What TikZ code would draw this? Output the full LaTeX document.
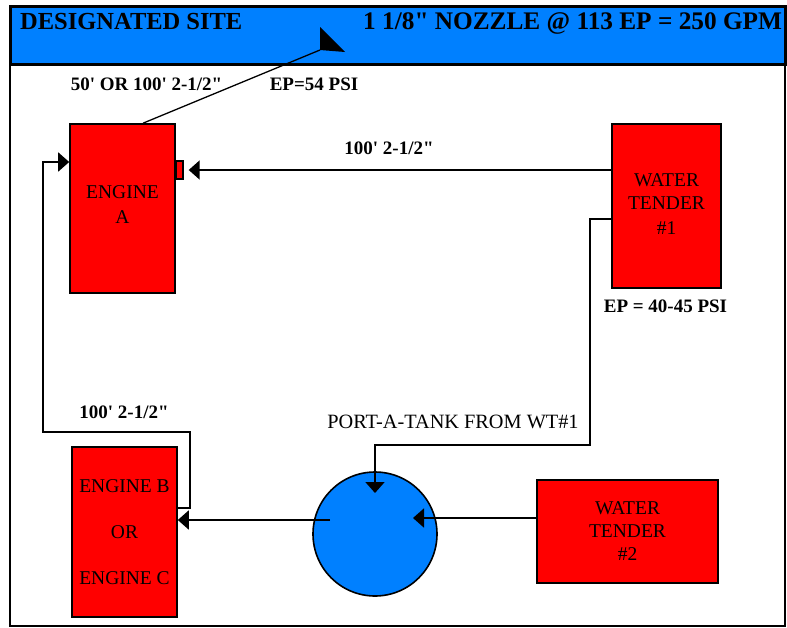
\documentclass[tikz,border=0pt]{standalone}
\usepackage{fontspec}
\newfontfamily\tnr{Liberation Serif}
\definecolor{TruckRed}{HTML}{FF0000}
\definecolor{TankBlue}{HTML}{0080FF}
\usetikzlibrary{arrows.meta, positioning}

\begin{document}
\begin{tikzpicture}[x=1pt, y=-1pt, >={Triangle[length=11pt,width=19pt]},
  truck/.style={draw, line width=1.6pt, fill=TruckRed, inner sep=0pt, align=center,
    font=\tnr\fontsize{19.5}{23}\selectfont},
  hose/.style={line width=1.8pt},
  lbl/.style={inner sep=0pt, font=\tnr\bfseries\fontsize{19}{22}\selectfont},
  head/.style={inner sep=0pt, anchor=base west, font=\tnr\bfseries\fontsize{24.5}{28}\selectfont}]
  \useasboundingbox (0,0) rectangle (787,627);

  % Frame and header bar
  \draw[line width=2pt] (10,6) rectangle (785,626);
  \draw[line width=3pt, fill=TankBlue] (10,6) rectangle (785,64);
  \node[head] (site) at (20,29) {DESIGNATED SITE};
  \node[head, font=\tnr\bfseries\fontsize{25.3}{28}\selectfont] (nozlbl) at (363,29)
    {1 1/8" NOZZLE @ 113 EP = 250 GPM};

  % Apparatus
  \node[truck, minimum width=105pt, minimum height=169pt] (engA) at (122.5,208.5)
    {ENGINE\\[2pt]A\\[-15pt]\mbox{}};
  \node[draw, line width=1.4pt, fill=TruckRed, inner sep=0pt,
    minimum width=7pt, minimum height=18pt] (engAport) at (179.5,170) {};
  \node[truck, minimum width=109pt, minimum height=164pt] (wt1) at (666.5,206)
    {\mbox{}\\[-15pt]WATER\\TENDER\\[2pt]\#1};
  \node[truck, minimum width=105pt, minimum height=170pt] (engB) at (124.5,532)
    {ENGINE B\\[23pt]OR\\[23pt]ENGINE C};
  \node[truck, minimum width=181pt, minimum height=103pt] (wt2) at (627.5,531.5)
    {WATER\\TENDER\\\#2};
  \node[circle, draw, line width=1.6pt, fill=TankBlue, minimum size=124pt] (tank) at (375,534) {};

  % Labels
  \node[lbl] (attlbl) at (146.5,84) {50' OR 100' 2-1/2"};
  \node[lbl] (eplbl) at (314,84) {EP=54 PSI};
  \node[lbl] (supplbl) at (389,148) {100' 2-1/2"};
  \node[lbl] (wtlbl) at (665.5,306) {EP = 40-45 PSI};
  \node[lbl] (feedlbl) at (124,412) {100' 2-1/2"};
  \node[inner sep=0pt, font=\tnr\fontsize{20.3}{23}\selectfont] (tanklbl) at (453,422)
    {PORT-A-TANK FROM WT\#1};

  % Nozzle line
  \coordinate (nozzle) at (320,50);
  \draw[line width=1.3pt] ([xshift=20.5pt]engA.north) -- (nozzle);
  \fill (320,27) -- (nozzle) -- (345,52) -- cycle;

  % Hose lays
  \draw[hose, ->, shorten >=5pt] ([yshift=36pt]wt1.west) -- (engAport.east);
  \draw[hose, ->] ([yshift=24pt]engB.east) -- ++(12,0) |- (43,432) |- ([yshift=46.5pt]engA.west);
  \draw[hose, ->] ([xshift=-45pt,yshift=14pt]tank.center) -- ([yshift=12pt]engB.east);
  \draw[hose, ->] ([yshift=-13pt]wt1.west) -| (590,445) -| ([yshift=41pt]tank.center);
  \draw[hose, ->] ([yshift=13.5pt]wt2.west) -- ([xshift=38pt,yshift=16pt]tank.center);
\end{tikzpicture}
\end{document}
